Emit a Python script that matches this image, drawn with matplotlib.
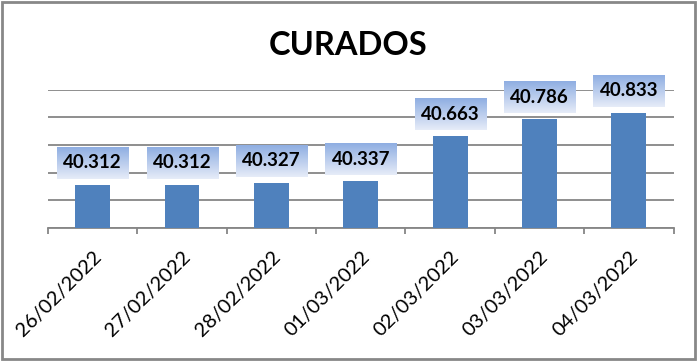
import numpy as np
import matplotlib
matplotlib.use("Agg")
import matplotlib.pyplot as plt
from matplotlib.patches import Rectangle
from matplotlib.transforms import ScaledTranslation

categories = ["26/02/2022", "27/02/2022", "28/02/2022", "01/03/2022",
              "02/03/2022", "03/03/2022", "04/03/2022"]
values = [40.312, 40.312, 40.327, 40.337, 40.663, 40.786, 40.833]
value_labels = ["40.312", "40.312", "40.327", "40.337", "40.663", "40.786", "40.833"]
title = "CURADOS"

bar_color = "#4F81BD"
grid_color = "#868686"
grad_top = np.array([0x8F, 0xAE, 0xE2]) / 255
grad_bot = np.array([0xE6, 0xEC, 0xF8]) / 255

fig = plt.figure(figsize=(6.98, 3.61), dpi=100)
fig.patch.set_facecolor("white")
# outer border
fig.add_artist(Rectangle((0.003, 0.006), 0.993, 0.988, transform=fig.transFigure,
                         fill=False, edgecolor="#888888", linewidth=2))

ax = fig.add_axes([0.0688, 0.3684, 0.8962, 0.3834])
x = np.arange(len(categories))
ax.bar(x, values, width=0.39, color=bar_color, zorder=3, bottom=0)
ax.set_xlim(-0.5, len(categories) - 0.5)
ax.set_ylim(40.0, 41.0)
ax.set_yticks(np.arange(40.0, 41.01, 0.2))
ax.yaxis.grid(True, color=grid_color, linewidth=1.3, zorder=0)
ax.tick_params(axis="y", left=False, labelleft=False)
for s in ["left", "right", "top"]:
    ax.spines[s].set_visible(False)
ax.spines["bottom"].set_color(grid_color)
ax.spines["bottom"].set_linewidth(1.3)

ax.set_xticks(x)
ax.set_xticklabels(categories, rotation=45, ha="right", va="center",
                   rotation_mode="anchor", fontsize=14.5, family="Lato")
ax.tick_params(axis="x", which="major", length=0, pad=19)
shift = ScaledTranslation(6 / 100, 0, fig.dpi_scale_trans)
for lbl in ax.get_xticklabels():
    lbl.set_transform(lbl.get_transform() + shift)
ax.set_xticks(np.arange(-0.5, len(categories), 1.0), minor=True)
ax.tick_params(axis="x", which="minor", length=4.5, color=grid_color, width=1.3)

# gradient label boxes
grad = np.linspace(0, 1, 64)[:, None, None]
img = grad_top[None, None, :] * (1 - grad) + grad_bot[None, None, :] * grad
box_w = 0.795
box_h = 0.231
gap = 0.043
for xi, v, lab in zip(x, values, value_labels):
    y0 = v + gap
    ax.imshow(img, extent=(xi - box_w / 2, xi + box_w / 2, y0, y0 + box_h),
              origin="upper", aspect="auto", zorder=4, clip_on=False)
    ax.text(xi, y0 + box_h / 2, lab, ha="center", va="center", fontsize=13.5,
            fontweight="bold", family="Lato", zorder=5, clip_on=False)
ax.set_xlim(-0.5, len(categories) - 0.5)
ax.set_ylim(40.0, 41.0)

fig.text(0.499, 0.8476, title, ha="center", va="baseline", fontsize=23.5,
         fontweight="bold", family="Lato")

fig.savefig("out.png", dpi=100, facecolor="white")
